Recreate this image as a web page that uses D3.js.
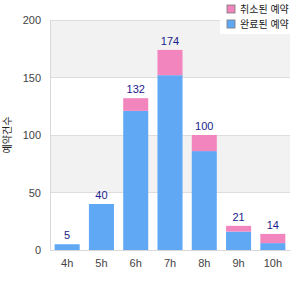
<!DOCTYPE html>
<html><head><meta charset="utf-8">
<script src="https://cdn.jsdelivr.net/npm/d3@7"></script>
<style>body{margin:0;background:#fff}svg{display:block;font-family:Arial,"Liberation Sans","Noto Sans CJK KR",sans-serif}</style>
</head><body><svg id="c" width="300" height="300"></svg>
<script>
const categories = ["4h","5h","6h","7h","8h","9h","10h"];
const seriesNames = ["완료된 예약","취소된 예약"];
const blueValues = [5,40,121,152,86,16,6];
const pinkValues = [0,0,11,22,14,5,8];
const totals = [5,40,132,174,100,21,14];
const yTicks = [0,50,100,150,200];
const yTitle = "예약건수";
const colors = ["#60a8f4","#f285bd"];

const svg = d3.select("#c");
const x = d3.scaleBand().domain(categories).range([50,290]).paddingInner(0.27).paddingOuter(0.135);
const y = d3.scaleLinear().domain([0,200]).range([250,20]);

// alternating bands
for (let i=0;i<yTicks.length-1;i++){
  svg.append("rect").attr("x",50).attr("width",240)
    .attr("y",y(yTicks[i+1])).attr("height",y(yTicks[i])-y(yTicks[i+1]))
    .attr("fill", i%2===1 ? "#f2f2f2" : "#ffffff");
}
// grid lines
svg.append("g").selectAll("line").data(yTicks.slice(1)).join("line")
  .attr("x1",50).attr("x2",290).attr("y1",d=>y(d)).attr("y2",d=>y(d))
  .attr("stroke","#dddddd").attr("stroke-width",1).attr("shape-rendering","crispEdges");

// axes
const yAxis = svg.append("g").attr("transform","translate(50,0)")
  .call(d3.axisLeft(y).tickValues(yTicks).tickSize(0).tickPadding(9));
yAxis.select(".domain").attr("stroke","#d8d8d8");
yAxis.selectAll("text").attr("fill","#444").style("font-size","11px");

const xAxis = svg.append("g").attr("transform","translate(0,250)")
  .call(d3.axisBottom(x).tickSize(0).tickPadding(9));
xAxis.select(".domain").attr("stroke","#d8d8d8");
xAxis.selectAll("text").attr("fill","#444").style("font-size","11px");

// stacked bars
const rows = categories.map((c,i)=>({cat:c, blue:blueValues[i], pink:pinkValues[i]}));
const stack = d3.stack().keys(["blue","pink"])(rows);
svg.append("g").selectAll("g").data(stack).join("g")
  .attr("fill",(d,i)=>colors[i])
  .selectAll("rect").data(d=>d).join("rect")
  .attr("x",d=>x(d.data.cat)).attr("width",x.bandwidth())
  .attr("y",d=>y(d[1])).attr("height",d=>y(d[0])-y(d[1]));

// total labels
svg.append("g").selectAll("text").data(categories).join("text")
  .attr("x",d=>x(d)+x.bandwidth()/2).attr("y",(d,i)=>y(totals[i])-5)
  .attr("text-anchor","middle").attr("fill","#1c1c8a").style("font-size","11px")
  .text((d,i)=>totals[i]);

// y title
svg.append("text").attr("transform","translate(11,135) rotate(-90)")
  .attr("text-anchor","middle").attr("fill","#222").style("font-size","10px").text(yTitle);

// legend
const lg = svg.append("g");
lg.append("rect").attr("x",220).attr("y",0).attr("width",72).attr("height",34).attr("fill","#fff");
const legendItems = [{name:seriesNames[1],color:colors[1]},{name:seriesNames[0],color:colors[0]}];
legendItems.forEach((it,i)=>{
  lg.append("rect").attr("x",227).attr("y",5+i*15).attr("width",8).attr("height",8)
    .attr("fill",it.color).attr("stroke","#777").attr("stroke-width",0.8);
  lg.append("text").attr("x",240).attr("y",13+i*15).attr("fill","#222").style("font-size","10px").text(it.name);
});
</script></body></html>
